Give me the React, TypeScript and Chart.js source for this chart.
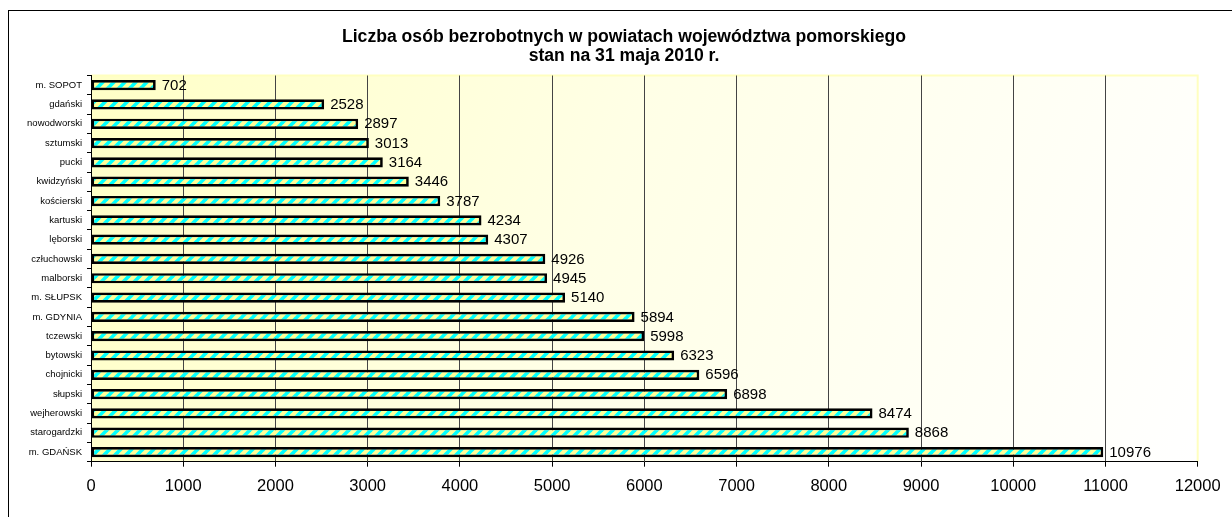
import React, { useEffect, useRef } from 'react';
import { Chart, registerables } from 'chart.js';

Chart.register(...registerables);

const categories: string[] = [
  'm. SOPOT', 'gdański', 'nowodworski', 'sztumski', 'pucki', 'kwidzyński', 'kościerski',
  'kartuski', 'lęborski', 'człuchowski', 'malborski', 'm. SŁUPSK', 'm. GDYNIA', 'tczewski',
  'bytowski', 'chojnicki', 'słupski', 'wejherowski', 'starogardzki', 'm. GDAŃSK',
];
const values: number[] = [
  702, 2528, 2897, 3013, 3164, 3446, 3787, 4234, 4307, 4926,
  4945, 5140, 5894, 5998, 6323, 6596, 6898, 8474, 8868, 10976,
];
const titleLines: string[] = [
  'Liczba osób bezrobotnych w powiatach województwa pomorskiego',
  'stan na 31 maja 2010 r.',
];
const xMin = 0;
const xMax = 12000;
const xStep = 1000;

const FONT = "'Liberation Sans', Arial, sans-serif";

function makePattern(): CanvasPattern | string {
  const n = 11;
  const tile = document.createElement('canvas');
  tile.width = n;
  tile.height = n;
  const c = tile.getContext('2d');
  if (!c) return '#FFFF99';
  c.fillStyle = '#FFFF99';
  c.fillRect(0, 0, n, n);
  c.strokeStyle = '#00FFFF';
  c.lineWidth = 3.6;
  for (const k of [-n, 0, n, 2 * n]) {
    c.beginPath();
    c.moveTo(k + 2 * n, -2 * n);
    c.lineTo(k - 2 * n, 2 * n);
    c.stroke();
  }
  const p = c.createPattern(tile, 'repeat');
  return p || '#FFFF99';
}

const bgPlugin = {
  id: 'bgPlugin',
  beforeDraw(chart: any) {
    const { ctx, chartArea } = chart;
    const { left, top, right, bottom } = chartArea;
    ctx.save();
    const g = ctx.createLinearGradient(left, top, right, bottom);
    g.addColorStop(0, '#FFFFC6');
    g.addColorStop(0.45, '#FFFFE6');
    g.addColorStop(1, '#FFFFFF');
    ctx.fillStyle = g;
    ctx.fillRect(left, top, right - left, bottom - top);
    ctx.strokeStyle = '#FFFFC0';
    ctx.lineWidth = 2;
    ctx.beginPath();
    ctx.moveTo(left, top);
    ctx.lineTo(right, top);
    ctx.lineTo(right, bottom);
    ctx.stroke();
    ctx.restore();
  },
};

const titlePlugin = {
  id: 'titlePlugin',
  afterDraw(chart: any) {
    const { ctx } = chart;
    ctx.save();
    ctx.fillStyle = '#000';
    ctx.font = `bold 17.6px ${FONT}`;
    ctx.textAlign = 'center';
    ctx.textBaseline = 'alphabetic';
    titleLines.forEach((t, i) => {
      ctx.fillText(t, 615, 31 + i * 19);
    });
    ctx.restore();
  },
};

const valueLabelPlugin = {
  id: 'valueLabelPlugin',
  afterDatasetsDraw(chart: any) {
    const { ctx } = chart;
    const meta = chart.getDatasetMeta(0);
    ctx.save();
    ctx.fillStyle = '#000';
    ctx.font = `15px ${FONT}`;
    ctx.textAlign = 'left';
    ctx.textBaseline = 'middle';
    meta.data.forEach((bar: any, i: number) => {
      ctx.fillText(String(values[i]), bar.x + 6, bar.y + 0.5);
    });
    ctx.restore();
  },
};

export default function App() {
  const ref = useRef<HTMLCanvasElement | null>(null);

  useEffect(() => {
    if (!ref.current) return;
    const pattern = makePattern();
    const chart = new Chart(ref.current, {
      type: 'bar',
      data: {
        labels: categories,
        datasets: [
          {
            data: values,
            backgroundColor: pattern as any,
            borderColor: '#000',
            borderWidth: 2.7,
            borderSkipped: false,
            barPercentage: 0.53,
            categoryPercentage: 1,
          },
        ],
      },
      options: {
        indexAxis: 'y',
        animation: false,
        responsive: false,
        devicePixelRatio: 1,
        layout: { padding: { top: 64.5, right: 34.3, bottom: 0, left: 0 } },
        plugins: {
          legend: { display: false },
          title: { display: false },
          tooltip: { enabled: false },
        },
        scales: {
          x: {
            type: 'linear',
            min: xMin,
            max: xMax,
            ticks: {
              stepSize: xStep,
              color: '#000',
              font: { family: FONT, size: 16.5 },
              padding: 10,
              maxRotation: 0,
              callback: (v: any) => String(v),
            },
            grid: {
              color: (c: any) => (c.tick && c.tick.value === xMax ? 'rgba(0,0,0,0)' : '#444'),
              tickColor: '#000',
              tickLength: 5,
              lineWidth: 1,
            },
            border: { color: '#000', width: 1 },
            afterFit: (s: any) => {
              s.height = 55.3;
            },
          },
          y: {
            type: 'category',
            ticks: {
              color: '#000',
              font: { family: FONT, size: 9.5 },
              padding: 5,
              autoSkip: false,
            },
            grid: {
              drawOnChartArea: false,
              tickColor: '#000',
              tickLength: 4,
              offset: true,
            },
            border: { color: '#000', width: 1 },
            afterFit: (s: any) => {
              s.width = 82;
            },
          },
        },
      } as any,
      plugins: [bgPlugin, titlePlugin, valueLabelPlugin],
    });
    return () => chart.destroy();
  }, []);

  return (
    <div
      style={{
        position: 'absolute',
        left: 8,
        top: 10,
        width: 1224,
        height: 507,
        boxSizing: 'border-box',
        borderLeft: '1px solid #000',
        borderTop: '1px solid #000',
        overflow: 'hidden',
        background: '#fff',
      }}
    >
      <canvas ref={ref} width={1223} height={506} style={{ display: 'block' }} />
    </div>
  );
}
